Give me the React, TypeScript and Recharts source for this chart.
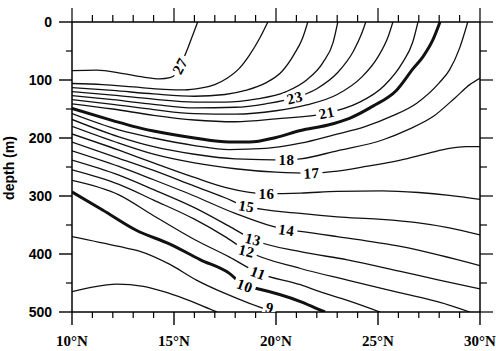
import React from 'react';
import { ComposedChart, Line, Scatter, XAxis, YAxis } from 'recharts';

// ticks and labels
const LAT_TICKS = [10, 11, 12, 13, 14, 15, 16, 17, 18, 19, 20, 21, 22, 23, 24, 25, 26, 27, 28, 29, 30];
const MAJOR_LATS = [10, 15, 20, 25, 30];
const LAT_LABELS = ['10°N', '15°N', '20°N', '25°N', '30°N'];
const DEPTH_TICKS = [0, 50, 100, 150, 200, 250, 300, 350, 400, 450, 500];
const MAJOR_DEPTHS = [0, 100, 200, 300, 400, 500];

// contour lines: [lat, depth (m)]
const t27 = [[10, 84], [11.2, 83], [12.5, 89], [13.5, 95], [14.3, 98], [14.8, 96], [15.1, 89], [15.3, 76], [15.7, 43], [16, 15], [16.16, 0]];
const t26 = [[10, 106], [11.5, 108], [13, 112], [14.5, 116], [15.5, 117], [16.3, 114], [17, 108], [17.6, 97], [18.2, 80], [18.7, 57], [19.2, 28], [19.6, 0]];
const t25 = [[10, 113], [12, 118], [14, 124], [16, 128], [17.5, 125], [18.5, 118], [19.5, 105], [20.3, 85], [20.9, 55], [21.3, 28], [21.56, 0]];
const t24 = [[10, 120], [12, 126], [14, 133], [16, 138], [17.5, 138], [19, 133], [20.5, 120], [21.5, 100], [22.3, 70], [22.8, 35], [23.03, 0]];
const t23 = [[10, 127], [12, 134], [14, 142], [16, 148], [18, 147], [19.5, 141], [20.9, 131], [22, 115], [23, 88], [23.8, 50], [24.2, 20], [24.4, 0]];
const t22 = [[10, 134], [12, 142], [14, 151], [16, 158], [18, 159], [20, 153], [21.5, 143], [23, 125], [24.2, 95], [25, 60], [25.5, 25], [25.73, 0]];
const t21 = [[10, 141], [12, 150], [14, 161], [16, 169], [18, 172], [20, 167], [22.5, 157], [24, 140], [25.3, 110], [26.2, 70], [26.7, 35], [26.96, 0]];
const t20 = [[10, 149], [12, 170], [13, 180], [14, 188], [16, 200], [17.7, 207], [18.7, 207], [20, 199], [21.2, 187], [22.5, 178], [23.6, 166], [24.75, 145], [25.9, 118], [26.73, 80], [27.2, 60], [27.7, 30], [28.04, 0]];
const t19 = [[10, 158], [12.3, 186], [14, 200], [16, 213], [17.7, 220], [19.5, 218], [21.2, 209], [22.8, 195], [24.4, 180], [25.7, 162], [26.9, 140], [28, 105], [28.5, 83], [29, 45], [29.4, 0]];
const t18 = [[10, 168], [12.3, 198], [14, 215], [16, 228], [18, 236], [20.5, 238], [21.2, 236], [23, 222], [25.25, 203], [26.5, 185], [27.7, 163], [28.8, 130], [29.5, 108], [30, 97]];
const t17 = [[10, 180], [12.3, 209], [14, 228], [16, 243], [18, 253], [20, 259], [21.7, 261], [23, 257], [24.4, 249], [26.1, 238], [27.5, 226], [28.5, 218], [29.3, 215], [30, 215]];
const t16 = [[10, 193], [12.3, 221], [14, 243], [16, 268], [17.5, 285], [19.5, 296], [21.2, 295], [23, 292], [25.2, 291], [27, 294], [28.5, 299], [30, 306]];
const t15 = [[10, 207], [12.3, 235], [14, 256], [16, 283], [17.5, 303], [18.55, 318], [21.2, 330], [23, 336], [25, 340], [26.9, 346], [28.5, 355], [30, 367]];
const t14 = [[10, 222], [12.3, 249], [14, 272], [16, 300], [18, 330], [20.5, 358], [21.2, 361], [23, 370], [26.1, 387], [28, 402], [30, 420]];
const t13 = [[10, 238], [12.3, 264], [14, 289], [16, 320], [17.7, 352], [18.87, 375], [21.2, 396], [23.5, 410], [26.1, 430], [28, 445], [30, 460]];
const t12 = [[10, 255], [12.3, 280], [14, 307], [16, 340], [17.5, 370], [18.55, 394], [21.2, 425], [23.5, 445], [26.1, 467], [28, 483], [29.5, 500]];
const t11 = [[10, 273], [12.3, 298], [14, 334], [16, 375], [17.7, 405], [19.1, 432], [21.2, 453], [22.15, 465], [23.5, 480], [25.1, 500]];
const t10 = [[10, 293], [11.5, 324], [13.15, 359], [14.8, 383], [16.3, 410], [17.7, 433], [18.47, 455], [19, 459], [21.2, 482], [22, 494], [22.4, 500]];
const t9 = [[10, 370], [12.3, 387], [13.3, 395], [14.8, 418], [16.1, 445], [17.5, 468], [18.7, 485], [19.9, 500]];
const t8 = [[10, 465], [11, 457], [12.2, 452], [13.5, 456], [14.5, 465], [15.5, 477], [16.3, 488], [17.1, 500]];

const LEVELS = [27, 26, 25, 24, 23, 22, 21, 20, 19, 18, 17, 16, 15, 14, 13, 12, 11, 10, 9, 8];
const LINES = [t27, t26, t25, t24, t23, t22, t21, t20, t19, t18, t17, t16, t15, t14, t13, t12, t11, t10, t9, t8];
const BOLD_LEVELS = [20, 10];

// contour labels: text, lat, depth
const LABEL_TEXT = ['27', '23', '21', '18', '17', '16', '15', '14', '13', '12', '11', '10', '9'];
const LABEL_LAT = [15.3, 20.92, 22.49, 20.51, 21.74, 19.53, 18.55, 20.51, 18.87, 18.55, 19.12, 18.47, 19.69];
const LABEL_DEPTH = [76, 131, 157, 238, 261, 297, 318, 359, 375, 395, 433, 455, 493];
const LABEL_ROT = [-62, -14, -12, 0, -3, 0, 10, 8, 14, 14, 20, 20, 15];

const contours = LINES.map((pts, i) => ({
  level: LEVELS[i],
  data: pts.map(([lat, d]) => ({ lat, d })),
}));

const labelData = LABEL_TEXT.map((text, i) => ({
  text,
  lat: LABEL_LAT[i],
  d: LABEL_DEPTH[i],
  rot: LABEL_ROT[i],
}));

const SERIF = '"Liberation Serif", "DejaVu Serif", serif';
const SANS = '"Liberation Sans", Arial, sans-serif';

const BottomTick = (props: any) => {
  const { x, y, payload } = props;
  const idx = MAJOR_LATS.indexOf(payload.value);
  if (idx < 0) return <line x1={x} x2={x} y1={y} y2={y + 6} stroke="#000" strokeWidth={1.2} />;
  return (
    <g>
      <line x1={x} x2={x} y1={y} y2={y + 13} stroke="#000" strokeWidth={1.4} />
      <text x={x} y={y + 34} textAnchor="middle" fontFamily={SERIF} fontWeight="bold" fontSize={15} fill="#000">
        {LAT_LABELS[idx]}
      </text>
    </g>
  );
};

const TopTick = (props: any) => {
  const { x, y, payload } = props;
  const len = MAJOR_LATS.includes(payload.value) ? 14 : 7;
  return <line x1={x} x2={x} y1={y} y2={y - len} stroke="#000" strokeWidth={1.2} />;
};

const LeftTick = (props: any) => {
  const { x, y, payload } = props;
  if (!MAJOR_DEPTHS.includes(payload.value)) {
    return <line x1={x} x2={x - 6} y1={y} y2={y} stroke="#000" strokeWidth={1.2} />;
  }
  return (
    <g>
      <line x1={x} x2={x - 13} y1={y} y2={y} stroke="#000" strokeWidth={1.4} />
      <text x={x - 20} y={y + 5} textAnchor="end" fontFamily={SANS} fontWeight="bold" fontSize={14} fill="#000">
        {payload.value}
      </text>
    </g>
  );
};

const RightTick = (props: any) => {
  const { x, y, payload } = props;
  const len = MAJOR_DEPTHS.includes(payload.value) ? 13 : 7;
  return <line x1={x} x2={x + len} y1={y} y2={y} stroke="#000" strokeWidth={1.2} />;
};

const ContourLabel = (props: any) => {
  const { cx, cy, payload } = props;
  const w = payload.text.length * 9 + 4;
  return (
    <g transform={`rotate(${payload.rot} ${cx} ${cy})`}>
      <rect x={cx - w / 2} y={cy - 7} width={w} height={14} fill="#fff" />
      <text x={cx} y={cy + 5} textAnchor="middle" fontFamily={SERIF} fontWeight="bold" fontSize={15}
        letterSpacing={0.5} fill="#000">
        {payload.text}
      </text>
    </g>
  );
};

const axisLine = { stroke: '#000', strokeWidth: 1.5 };

export default function App() {
  return (
    <div style={{ position: 'absolute', left: 0, top: 0, background: '#fff' }}>
      <ComposedChart width={496} height={351} margin={{ top: 21, right: 15, bottom: 38, left: 71 }}>
        <XAxis xAxisId="b" dataKey="lat" type="number" domain={[10, 30]} allowDataOverflow ticks={LAT_TICKS}
          interval={0} orientation="bottom" height={1} tickSize={0} tickMargin={0} tickLine={false}
          axisLine={axisLine} tick={<BottomTick />} />
        <XAxis xAxisId="t" dataKey="lat" type="number" domain={[10, 30]} allowDataOverflow ticks={LAT_TICKS}
          interval={0} orientation="top" height={1} tickSize={0} tickMargin={0} tickLine={false}
          axisLine={axisLine} tick={<TopTick />} />
        <YAxis yAxisId="l" dataKey="d" type="number" domain={[0, 500]} allowDataOverflow reversed ticks={DEPTH_TICKS}
          interval={0} orientation="left" width={1} tickSize={0} tickMargin={0} tickLine={false}
          axisLine={axisLine} tick={<LeftTick />}
          label={{
            content: () => (
              <text x={14} y={168} transform="rotate(-90 14 168)" textAnchor="middle" fontFamily={SANS}
                fontWeight="bold" fontSize={14} fill="#000">depth (m)</text>
            ),
          }} />
        <YAxis yAxisId="r" dataKey="d" type="number" domain={[0, 500]} allowDataOverflow reversed ticks={DEPTH_TICKS}
          interval={0} orientation="right" width={1} tickSize={0} tickMargin={0} tickLine={false}
          axisLine={axisLine} tick={<RightTick />} />
        {contours.map((c) => (
          <Line
            key={c.level}
            xAxisId="b"
            yAxisId="l"
            data={c.data}
            dataKey="d"
            type="monotone"
            stroke="#111"
            strokeWidth={BOLD_LEVELS.includes(c.level) ? 3 : 1.3}
            dot={false}
            activeDot={false}
            isAnimationActive={false}
          />
        ))}
        <Scatter xAxisId="b" yAxisId="l" data={labelData} dataKey="d" shape={<ContourLabel />} isAnimationActive={false} />
      </ComposedChart>
    </div>
  );
}
